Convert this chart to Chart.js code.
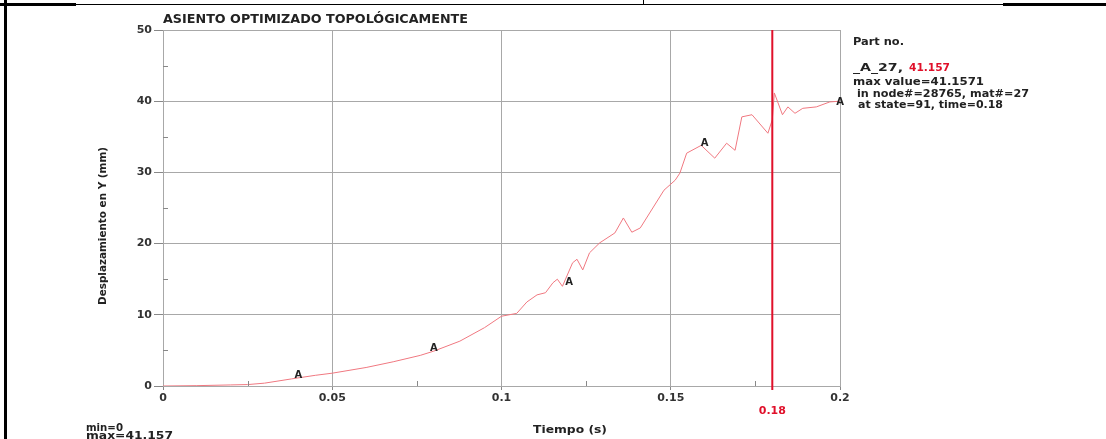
<!DOCTYPE html>
<html>
<head>
<meta charset="utf-8">
<script src="https://cdn.jsdelivr.net/npm/chart.js@4.4.1/dist/chart.umd.min.js"></script>
<style>
  body { margin: 0; background: #fff; }
  #wrap { position: relative; width: 1106px; height: 439px; overflow: hidden; }
  .ln { position: absolute; background: #000; }
</style>
</head>
<body>
<div id="wrap">
  <canvas id="chart"></canvas>
  <div class="ln" style="left:4px;top:0;width:3px;height:439px"></div>
  <div class="ln" style="left:0;top:3px;width:76px;height:3px"></div>
  <div class="ln" style="left:76px;top:4px;width:930px;height:1px"></div>
  <div class="ln" style="left:643px;top:0;width:1px;height:5px"></div>
  <div class="ln" style="left:1003px;top:3px;width:103px;height:3px"></div>
</div>
<script>
// --- DONNÉES --- //
const tiempo = [0, 0.01, 0.02, 0.025, 0.03, 0.038, 0.045, 0.05, 0.06, 0.068, 0.076, 0.08, 0.0877, 0.095,
    0.1, 0.1045, 0.1075, 0.1105, 0.113, 0.1152, 0.1165, 0.118, 0.121, 0.1223, 0.124, 0.126, 0.129, 0.1335,
    0.136, 0.1385, 0.141, 0.148, 0.1513, 0.1527, 0.1547, 0.159, 0.163, 0.1665, 0.169, 0.171, 0.174,
    0.1787, 0.18, 0.1806, 0.183, 0.1846, 0.1867, 0.189, 0.193, 0.197, 0.2];
const desplazamiento = [0, 0.05, 0.15, 0.2, 0.4, 1.0, 1.5, 1.8, 2.6, 3.4, 4.3, 4.9, 6.3, 8.2,
    9.8, 10.2, 11.8, 12.8, 13.1, 14.5, 15.0, 14.0, 17.3, 17.8, 16.3, 18.7, 20.1, 21.5,
    23.6, 21.6, 22.2, 27.5, 28.9, 29.9, 32.7, 33.8, 32.0, 34.1, 33.1, 37.8, 38.1,
    35.5, 37.4, 41.16, 38.1, 39.2, 38.3, 39.0, 39.2, 39.9, 40.0];

// marqueurs "A"
const marcaT = [0.04, 0.08, 0.12, 0.16, 0.2];
const marcaV = [1.5, 5.3, 14.5, 34.1, 39.9];

const xTicks = [0, 0.05, 0.1, 0.15, 0.2];
const yTicks = [0, 10, 20, 30, 40, 50];
const tiempoEstado = 0.18;

const FONT = "'DejaVu Sans', Verdana, sans-serif";
const ROJO = '#e0102a';

// texte ajusté à une largeur donnée
function fitText(ctx, s, x, y, w, align = 'left') {
    const m = ctx.measureText(s).width;
    ctx.save();
    ctx.translate(x, y);
    ctx.scale(w / m, 1);
    ctx.textAlign = align;
    ctx.fillText(s, 0, 0);
    ctx.restore();
}

// --- PLUGIN : textes et repères --- //
const extras = {
    id: 'extras',
    afterDraw(chart) {
        const { ctx, chartArea: a, scales: { x, y } } = chart;
        ctx.save();

        // petites graduations intérieures
        ctx.strokeStyle = '#888';
        ctx.lineWidth = 1;
        [0.025, 0.075, 0.125, 0.175].forEach(t => {
            const px = Math.round(x.getPixelForValue(t)) + 0.5;
            ctx.beginPath();
            ctx.moveTo(px, a.bottom);
            ctx.lineTo(px, a.bottom - 5);
            ctx.stroke();
        });
        [5, 15, 25, 35, 45].forEach(v => {
            const py = Math.round(y.getPixelForValue(v)) + 0.5;
            ctx.beginPath();
            ctx.moveTo(a.left, py);
            ctx.lineTo(a.left + 5, py);
            ctx.stroke();
        });

        // ligne verticale rouge (état 91)
        const xr = x.getPixelForValue(tiempoEstado);
        ctx.strokeStyle = ROJO;
        ctx.lineWidth = 2;
        ctx.beginPath();
        ctx.moveTo(xr, a.top);
        ctx.lineTo(xr, a.bottom + 4);
        ctx.stroke();

        ctx.fillStyle = ROJO;
        ctx.font = `bold 11px ${FONT}`;
        ctx.textAlign = 'center';
        ctx.textBaseline = 'middle';
        ctx.fillText(String(tiempoEstado), xr, 411);

        // marqueurs A
        ctx.fillStyle = '#222';
        ctx.font = `bold 10px ${FONT}`;
        marcaT.forEach((t, i) => {
            ctx.fillText('A', x.getPixelForValue(t), y.getPixelForValue(marcaV[i]));
        });

        // titre
        ctx.font = `bold 12px ${FONT}`;
        fitText(ctx, 'ASIENTO OPTIMIZADO TOPOLÓGICAMENTE', 163, 19.5, 305);

        ctx.font = `bold 11px ${FONT}`;

        // axes
        fitText(ctx, 'Tiempo (s)', 570, 430, 74, 'center');
        ctx.save();
        ctx.translate(103, 226);
        ctx.rotate(-Math.PI / 2);
        fitText(ctx, 'Desplazamiento en Y (mm)', 0, 0, 158, 'center');
        ctx.restore();

        // légende à droite
        fitText(ctx, 'Part no.', 853, 42, 51);
        fitText(ctx, '_A_27,', 853, 68, 50);
        ctx.fillStyle = ROJO;
        fitText(ctx, '41.157', 909, 68, 41);
        ctx.fillStyle = '#222';
        fitText(ctx, 'max value=41.1571', 853, 82, 131);
        fitText(ctx, 'in node#=28765, mat#=27', 857, 94.5, 172);
        fitText(ctx, 'at state=91, time=0.18', 858, 105.5, 145);

        // min / max
        fitText(ctx, 'min=0', 86, 428, 37);
        fitText(ctx, 'max=41.157', 86, 436.5, 87);

        ctx.restore();
    }
};

const ctx = document.getElementById('chart').getContext('2d');

new Chart(ctx, {
    type: 'line',
    data: {
        datasets: [{
            label: 'A',
            data: tiempo.map((t, i) => ({ x: t, y: desplazamiento[i] })),
            borderColor: '#f07880',
            borderWidth: 1,
            pointRadius: 0,
            tension: 0,
            fill: false
        }]
    },
    options: {
        responsive: true,
        maintainAspectRatio: false,
        animation: false,
        layout: { padding: { left: 0, top: 30, right: 266, bottom: 0 } },
        plugins: { legend: { display: false }, tooltip: { enabled: false } },
        scales: {
            x: {
                type: 'linear',
                min: 0,
                max: 0.2,
                afterBuildTicks: s => { s.ticks = xTicks.map(v => ({ value: v })); },
                afterFit: s => { s.height = 53; },
                ticks: {
                    callback: v => String(v),
                    color: '#333',
                    padding: 2,
                    maxRotation: 0,
                    font: { family: FONT, size: 11, weight: 'bold' }
                },
                grid: { color: '#a8a8a8', lineWidth: 1, tickLength: 4, tickColor: '#888' },
                border: { color: '#a8a8a8', width: 1 }
            },
            y: {
                min: 0,
                max: 50,
                afterBuildTicks: s => { s.ticks = yTicks.map(v => ({ value: v })); },
                afterFit: s => { s.width = 163; },
                ticks: {
                    color: '#333',
                    padding: 2,
                    font: { family: FONT, size: 11, weight: 'bold' }
                },
                grid: { color: '#a8a8a8', lineWidth: 1, tickLength: 9, tickColor: '#888' },
                border: { color: '#a8a8a8', width: 1 }
            }
        }
    },
    plugins: [extras]
});
</script>
</body>
</html>
